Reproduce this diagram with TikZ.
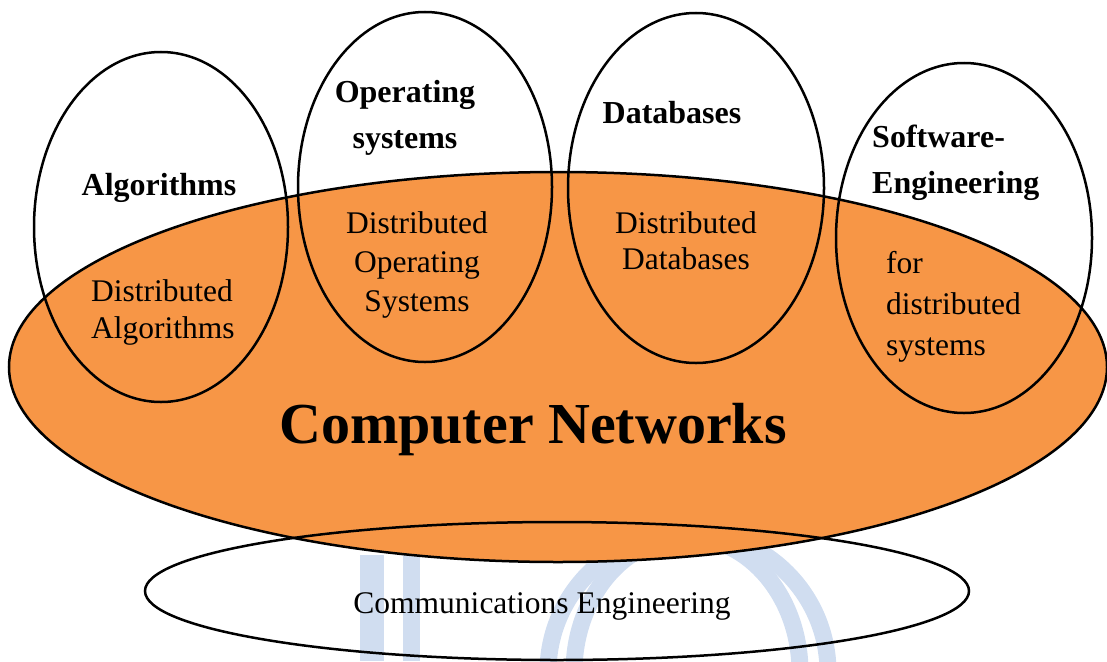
\documentclass[tikz,border=0pt]{standalone}
\usepackage{fontspec}
\setmainfont{Liberation Serif}
\usetikzlibrary{positioning}

\definecolor{netorange}{RGB}{247,150,70}
\definecolor{wmblue}{RGB}{208,221,240}

\begin{document}
\begin{tikzpicture}[x=1pt, y=-1pt,
    bubble/.style={draw=black, line width=2.5pt},
    wmark/.style={draw=wmblue, line width=17pt},
    heading/.style={inner sep=0pt, font=\bfseries\fontsize{32}{46}\selectfont},
    body/.style={inner sep=0pt, font=\fontsize{31.5}{38}\selectfont}]
  \useasboundingbox (0,0) rectangle (1107,661);

  % faint marks behind the picture
  \draw [wmark, line width=24pt] (372,555) -- (372,661);
  \draw [wmark] (411.5,555) -- (411.5,661);
  \draw [wmark] (548,672) arc [start angle=180, end angle=360, x radius=140, y radius=140];
  \draw [wmark] (574,672) arc [start angle=180, end angle=360, x radius=113, y radius=135];

  % the big field
  \coordinate (net) at (558,367);
  \fill [netorange] (net) ellipse [x radius=549, y radius=195];
  \draw [bubble] (net) ellipse [x radius=549, y radius=195];

  % the four subjects
  \coordinate (alg) at (161,227);
  \coordinate (ops) at (425,187);
  \coordinate (dbs) at (696,188);
  \coordinate (swe) at (964,238);
  \draw [bubble] (alg) ellipse [x radius=127, y radius=175];
  \draw [bubble] (ops) ellipse [x radius=127, y radius=175];
  \draw [bubble] (dbs) ellipse [x radius=128, y radius=175];
  \draw [bubble] (swe) ellipse [x radius=128, y radius=175];

  % the base
  \coordinate (com) at (557,591);
  \draw [bubble] (com) ellipse [x radius=412, y radius=69];

  % labels
  \node (algtitle) at (159,195) [heading, anchor=base] {Algorithms};
  \node (opstitle) at (405,80) [heading, anchor=north, align=center] {Operating\\systems};
  \node (dbstitle) at (672,123) [heading, anchor=base] {Databases};
  \node (swetitle) at (872,125) [heading, anchor=north west, align=left] {Software-\\Engineering};

  \node (distalg) at (91,279) [body, anchor=north west, align=left,
    font=\fontsize{31.5}{37}\selectfont] {Distributed\\Algorithms};
  \node (distops) at (417,211) [body, anchor=north, align=center,
    font=\fontsize{31.5}{39}\selectfont] {Distributed\\Operating\\Systems};
  \node (distdbs) at (686,211) [body, anchor=north, align=center,
    font=\fontsize{31.5}{36}\selectfont] {Distributed\\Databases};
  \node (distswe) at (886,251) [body, anchor=north west, align=left,
    font=\fontsize{31.5}{41}\selectfont] {for\\distributed\\systems};

  \node (nettitle) at (533,443) [anchor=base, inner sep=0pt,
    font=\bfseries\fontsize{58}{68}\selectfont] {Computer Networks};
  \node (comtitle) at (542,613) [body, anchor=base] {Communications Engineering};
\end{tikzpicture}
\end{document}
